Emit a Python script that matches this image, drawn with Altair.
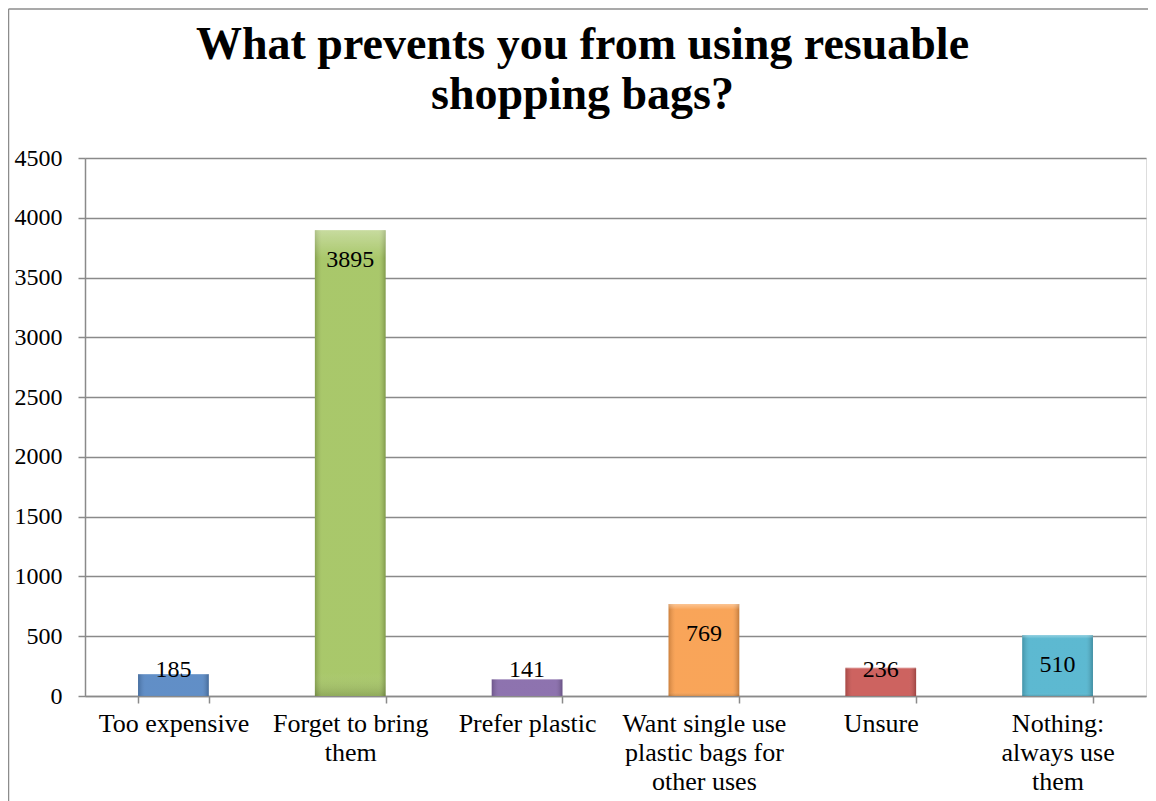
import altair as alt
import pandas as pd

categories = [
    "Too expensive",
    "Forget to bring\nthem",
    "Prefer plastic",
    "Want single use\nplastic bags for\nother uses",
    "Unsure",
    "Nothing:\nalways use\nthem",
]
counts = [185, 3895, 141, 769, 236, 510]
bar_colors = ["#5485C2", "#A2C35E", "#8467A8", "#F99D4B", "#C95653", "#4FB3CD"]
y_ticks = [0, 500, 1000, 1500, 2000, 2500, 3000, 3500, 4000, 4500]
title_lines = ["What prevents you from using resuable", "shopping bags?"]

df = pd.DataFrame({"category": categories, "count": counts})

FONT = "Liberation Serif"
GRID = "#8a8a8a"

x_enc = alt.X(
    "category:N",
    sort=categories,
    scale=alt.Scale(paddingInner=0.6, paddingOuter=0.3),
    axis=alt.Axis(
        title=None,
        labelAngle=0,
        labelExpr="split(datum.label, '\\n')",
        tickBand="extent",
        tickSize=7,
        tickColor=GRID,
        tickWidth=1.5,
        domainColor=GRID,
        domainWidth=1.5,
        labelFont=FONT,
        labelFontSize=26,
        labelColor="black",
        labelPadding=7,
        labelLineHeight=29,
        grid=False,
    ),
)

y_scale = alt.Scale(domain=[0, 4500])
y_axis = alt.Axis(
    title=None,
    values=y_ticks,
    format="d",
    grid=True,
    gridColor=GRID,
    gridWidth=1.5,
    tickSize=7,
    tickColor=GRID,
    tickWidth=1.5,
    domainColor=GRID,
    domainWidth=1.5,
    labelFont=FONT,
    labelFontSize=24,
    labelColor="black",
    labelPadding=16,
)

base = alt.Chart(df).encode(x=x_enc)

bars = base.mark_bar().encode(
    y=alt.Y("count:Q", scale=y_scale, axis=y_axis),
    color=alt.Color("category:N", scale=alt.Scale(domain=categories, range=bar_colors), legend=None),
)

side_shade = base.mark_bar(
    fill=alt.LinearGradient(
        gradient="linear",
        x1=0, x2=1, y1=0, y2=0,
        stops=[
            alt.GradientStop(color="rgba(0,0,0,0.18)", offset=0),
            alt.GradientStop(color="rgba(255,255,255,0.08)", offset=0.1),
            alt.GradientStop(color="rgba(255,255,255,0.08)", offset=0.9),
            alt.GradientStop(color="rgba(0,0,0,0.22)", offset=1),
        ],
    )
).encode(y=alt.Y("count:Q"))

top_shade = base.mark_bar(
    fill=alt.LinearGradient(
        gradient="linear",
        x1=0, x2=0, y1=0, y2=1,
        stops=[
            alt.GradientStop(color="rgba(255,255,255,0.35)", offset=0),
            alt.GradientStop(color="rgba(255,255,255,0.0)", offset=0.06),
            alt.GradientStop(color="rgba(255,255,255,0.0)", offset=0.95),
            alt.GradientStop(color="rgba(0,0,0,0.15)", offset=1),
        ],
    )
).encode(y=alt.Y("count:Q"))

labels = base.transform_calculate(labelPos="max(datum.count, 470)").mark_text(
    font=FONT, fontSize=24, baseline="middle", dy=30, color="black"
).encode(y=alt.Y("labelPos:Q"), text=alt.Text("count:Q"))

frame_df = pd.DataFrame({"a": [0]})
left_border = alt.Chart(frame_df).mark_rule(color="#8c8c8c", strokeWidth=1.5).encode(
    x=alt.value(-76.5), y=alt.value(-149), y2=alt.value(700)
)
top_border = alt.Chart(frame_df).mark_rule(color="#8c8c8c", strokeWidth=1.5).encode(
    x=alt.value(-76.5), x2=alt.value(1100), y=alt.value(-149)
)

chart = alt.layer(bars, side_shade, top_shade, labels, left_border, top_border).properties(
    width=1061,
    height=538,
    title=alt.TitleParams(
        title_lines,
        font=FONT,
        fontSize=46,
        fontWeight="bold",
        color="black",
        anchor="middle",
        frame="group",
        baseline="alphabetic",
        dx=-33,
        offset=-147,
        lineHeight=50,
    ),
    autosize=alt.AutoSizeParams(type="none"),
    padding={"left": 77, "top": 150, "right": 2, "bottom": 105},
).configure_view(stroke=None).configure(background="white")

chart.save("out.html", embed_options={"renderer": "svg", "actions": False})
